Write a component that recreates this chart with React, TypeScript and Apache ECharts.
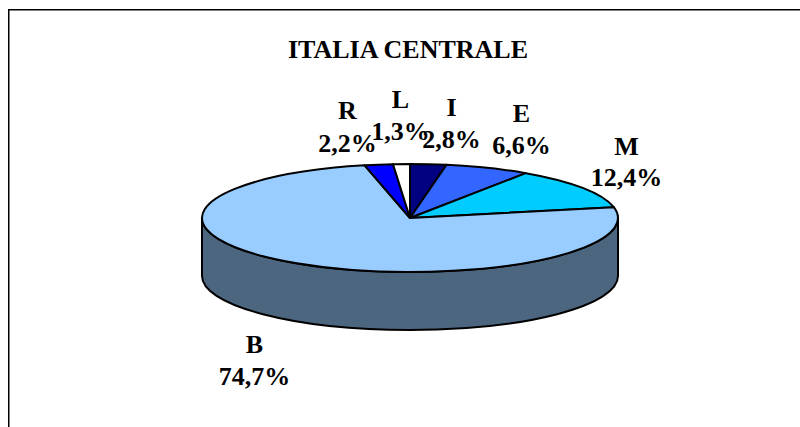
import React, { useEffect, useRef } from "react";
import * as echarts from "echarts";

const categories = ["I", "E", "M", "B", "R", "L"];
const values = [2.8, 6.6, 12.4, 74.7, 2.2, 1.3];
const valueLabels = ["2,8%", "6,6%", "12,4%", "74,7%", "2,2%", "1,3%"];
const topColors = ["#000080", "#3366FF", "#00CCFF", "#99CCFF", "#0000FF", "#FFFFFF"];
const sideColors = ["#000040", "#1A3380", "#006680", "#4D6680", "#000080", "#808080"];
const labelCentersX = [451.5, 521.5, 626.5, 254.5, 347.5, 400.5];
const labelNameY = [107, 113, 146, 344, 110, 99];
const labelValueY = [139, 145, 177, 376, 143, 131];
const titleText = "ITALIA CENTRALE";

const CX = 410;
const CY = 218;
const RX = 208;
const RY = 54;
const DEPTH = 58;
const FONT = '"Liberation Serif", "Times New Roman", serif';

const total = values.reduce((a, b) => a + b, 0);
const pointAt = (a: number, dy = 0) => [CX + RX * Math.sin(a), CY + dy - RY * Math.cos(a)];
const fmt = (p: number[]) => `${p[0].toFixed(2)} ${p[1].toFixed(2)}`;

function renderSlice(params: any, api: any) {
  const i = params.dataIndex;
  let before = 0;
  for (let k = 0; k < i; k++) before += values[k];
  const v = api.value(0);
  const a0 = (before / total) * 2 * Math.PI;
  const a1 = ((before + v) / total) * 2 * Math.PI;
  const large = a1 - a0 > Math.PI ? 1 : 0;
  const stroke = { stroke: "#000", lineWidth: 2, lineJoin: "round" };
  const children: any[] = [];

  // Visible side wall: the part of the rim lying on the front half of the ellipse.
  const s0 = Math.max(a0, Math.PI / 2);
  const s1 = Math.min(a1, (3 * Math.PI) / 2);
  if (s1 > s0) {
    const t0 = pointAt(s0);
    const t1 = pointAt(s1);
    const b0 = pointAt(s0, DEPTH);
    const b1 = pointAt(s1, DEPTH);
    children.push({
      type: "path",
      shape: {
        pathData: `M ${fmt(t0)} A ${RX} ${RY} 0 0 1 ${fmt(t1)} L ${fmt(b1)} A ${RX} ${RY} 0 0 0 ${fmt(b0)} Z`,
      },
      style: { fill: sideColors[i], ...stroke },
    });
  }

  children.push({
    type: "path",
    shape: {
      pathData: `M ${CX} ${CY} L ${fmt(pointAt(a0))} A ${RX} ${RY} 0 ${large} 1 ${fmt(pointAt(a1))} Z`,
    },
    style: { fill: topColors[i], ...stroke },
  });

  return { type: "group", children };
}

function renderLabel(params: any) {
  const i = params.dataIndex;
  const textStyle = (text: string, y: number) => ({
    type: "text",
    style: {
      text, x: labelCentersX[i], y,
      align: "center", verticalAlign: "middle",
      font: `bold 26px ${FONT}`, fill: "#000",
    },
  });
  return {
    type: "group",
    children: [
      textStyle(categories[i], labelNameY[i]),
      textStyle(valueLabels[i], labelValueY[i]),
    ],
  };
}

export default function App() {
  const ref = useRef<HTMLDivElement>(null);
  useEffect(() => {
    const chart = echarts.init(ref.current!, null, { renderer: "svg" });
    const seriesData = values.map((v, i) => ({ name: categories[i], value: [v] }));
    chart.setOption({
      animation: false,
      backgroundColor: "#fff",
      title: {
        text: titleText,
        left: 403,
        top: 31,
        textAlign: "center",
        textStyle: { fontFamily: FONT, fontWeight: "bold", fontSize: 26, color: "#000" },
      },
      graphic: [
        {
          type: "polyline",
          shape: { points: [[8.75, 427], [8.75, 9.75], [800, 9.75]] },
          style: { stroke: "#000", lineWidth: 1.5, fill: "none" },
        },
      ],
      series: [
        { type: "custom", coordinateSystem: "none", renderItem: renderSlice, data: seriesData, silent: true },
        { type: "custom", coordinateSystem: "none", renderItem: renderLabel, data: seriesData, silent: true, z: 5 },
      ],
    });
    return () => chart.dispose();
  }, []);
  return <div ref={ref} style={{ position: "fixed", left: 0, top: 0, width: 800, height: 427 }} />;
}
